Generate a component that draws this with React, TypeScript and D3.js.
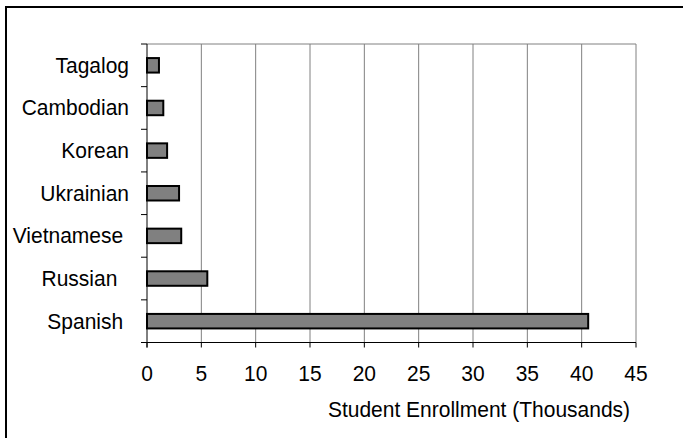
import * as d3 from 'd3';

// categories from bottom to top (as in the source chart); trailing spaces are part of the original labels
const languages = ['Spanish ', 'Russian  ', 'Vietnamese ', 'Ukrainian', 'Korean', 'Cambodian', 'Tagalog'];
const enrollment = [40.6, 5.55, 3.15, 2.95, 1.85, 1.5, 1.1];
const xTicks = [0, 5, 10, 15, 20, 25, 30, 35, 40, 45];
const xTitle = 'Student Enrollment (Thousands)';

const WIDTH = 683;
const HEIGHT = 438;
const PLOT = { left: 147, right: 636, top: 44, bottom: 342.5 };
const FONT = '"Liberation Sans", Arial, sans-serif';
const STRETCH = 1.08; // source text is slightly taller than it is wide

export default function App() {
    const x = d3.scaleLinear()
        .domain([0, 45])
        .range([PLOT.left, PLOT.right]);

    // reversed so the first category sits at the bottom
    const y = d3.scaleBand<string>()
        .domain([...languages].reverse())
        .range([PLOT.top, PLOT.bottom])
        .paddingInner(0.66)
        .paddingOuter(0.33);

    const step = y.step();
    const boundaries = d3.range(languages.length + 1).map(i => PLOT.top + i * step);

    const label = (key: string, tx: number, ty: number, anchor: string, s: string | number) => (
        <text key={key} transform={`translate(${tx},${ty}) scale(1,${STRETCH})`} textAnchor={anchor}
            fontSize={21} style={{ whiteSpace: 'pre' }}>{s}</text>
    );

    return (
        <svg width={WIDTH} height={HEIGHT} style={{ position: 'absolute', left: 0, top: 0 }}
            fontFamily={FONT}>
            <rect x={0} y={0} width={WIDTH} height={HEIGHT} fill="white" />
            {/* outer frame, runs off the right and bottom edges */}
            <rect x={6} y={7} width={WIDTH + 20} height={HEIGHT + 20} fill="none" stroke="black" strokeWidth={2} />

            {/* gridlines */}
            {xTicks.filter(t => t > 0).map(t => (
                <line key={'g' + t} x1={x(t)} x2={x(t)} y1={PLOT.top} y2={PLOT.bottom}
                    stroke="#808080" strokeWidth={1} />
            ))}
            <line x1={PLOT.left} x2={PLOT.right} y1={PLOT.top} y2={PLOT.top} stroke="#808080" strokeWidth={1} />

            {/* bars */}
            {languages.map((lang, i) => (
                <rect key={lang} x={x(0)} y={y(lang)!} width={x(enrollment[i]) - x(0)} height={y.bandwidth()}
                    fill="#808080" stroke="black" strokeWidth={2} />
            ))}

            {/* y axis */}
            <line x1={PLOT.left} x2={PLOT.left} y1={PLOT.top} y2={PLOT.bottom + 5} stroke="black" strokeWidth={1} />
            {boundaries.map((b, i) => (
                <line key={'yt' + i} x1={PLOT.left - 6} x2={PLOT.left} y1={b} y2={b} stroke="black" strokeWidth={1} />
            ))}
            {languages.map(lang =>
                label('l' + lang, 129, y(lang)! + y.bandwidth() / 2 + 7.5, 'end', lang))}

            {/* x axis */}
            <line x1={PLOT.left} x2={PLOT.right} y1={PLOT.bottom} y2={PLOT.bottom} stroke="black" strokeWidth={1} />
            {xTicks.map(t => (
                <line key={'xt' + t} x1={x(t)} x2={x(t)} y1={PLOT.bottom} y2={PLOT.bottom + 5} stroke="black" strokeWidth={1} />
            ))}
            {xTicks.map(t => label('xl' + t, x(t), 380.5, 'middle', t))}
            {label('title', 479, 416.5, 'middle', xTitle)}
        </svg>
    );
}
